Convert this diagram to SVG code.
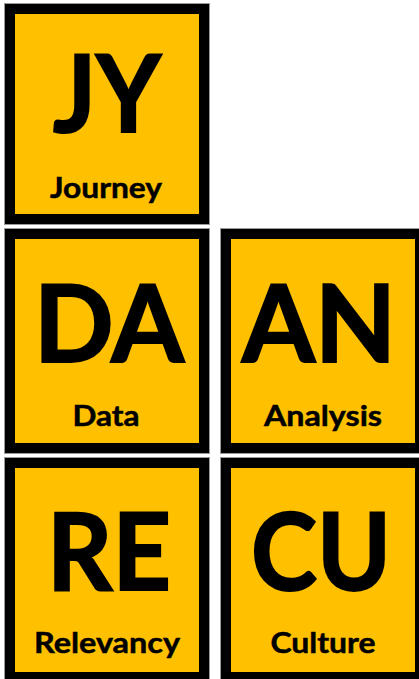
<svg xmlns="http://www.w3.org/2000/svg" width="419" height="679" viewBox="0 0 419 679">
<style>
.tile{fill:#FFC000;stroke:#000;stroke-width:10}
.edge{fill:none;stroke:#9a9a9a;stroke-width:1}
.big{font-family:Lato,"Open Sans","Liberation Sans",sans-serif;font-weight:bold;font-size:107px;fill:#000;stroke:#000;stroke-width:2;text-anchor:middle}
.lbl{font-family:Lato,"Open Sans","Liberation Sans",sans-serif;font-weight:bold;font-size:29px;fill:#000;stroke:#000;stroke-width:0.5;text-anchor:middle}
</style>
<rect width="419" height="679" fill="#fff"/>
<g id="JY">
<rect class="edge" x="4.5" y="3.5" width="205" height="221"/>
<rect class="tile" x="10" y="9" width="194" height="210"/>
<text class="big" x="107" y="132" textLength="108" lengthAdjust="spacingAndGlyphs">JY</text>
<text class="lbl" x="106" y="198" textLength="112" lengthAdjust="spacingAndGlyphs">Journey</text>
</g>
<g id="DA">
<rect class="edge" x="4.5" y="228.5" width="205" height="225"/>
<rect class="tile" x="10" y="234" width="194" height="214"/>
<text class="big" x="109" y="362" textLength="150" lengthAdjust="spacingAndGlyphs">DA</text>
<text class="lbl" x="106" y="426" textLength="67" lengthAdjust="spacingAndGlyphs">Data</text>
</g>
<g id="AN">
<rect class="edge" x="220.5" y="228.5" width="205" height="225"/>
<rect class="tile" x="226" y="234" width="194" height="214"/>
<text class="big" x="319" y="362" textLength="154" lengthAdjust="spacingAndGlyphs">AN</text>
<text class="lbl" x="323" y="426" textLength="118" lengthAdjust="spacingAndGlyphs">Analysis</text>
</g>
<g id="RE">
<rect class="edge" x="4.5" y="457.5" width="205" height="225"/>
<rect class="tile" x="10" y="463" width="194" height="214"/>
<text class="big" x="109" y="590" textLength="124" lengthAdjust="spacingAndGlyphs">RE</text>
<text class="lbl" x="107" y="653" textLength="146" lengthAdjust="spacingAndGlyphs">Relevancy</text>
</g>
<g id="CU">
<rect class="edge" x="220.5" y="457.5" width="205" height="225"/>
<rect class="tile" x="226" y="463" width="194" height="214"/>
<text class="big" x="321" y="590" textLength="140" lengthAdjust="spacingAndGlyphs">CU</text>
<text class="lbl" x="323" y="653" textLength="105" lengthAdjust="spacingAndGlyphs">Culture</text>
</g>
<g id="connectors"/>
</svg>
